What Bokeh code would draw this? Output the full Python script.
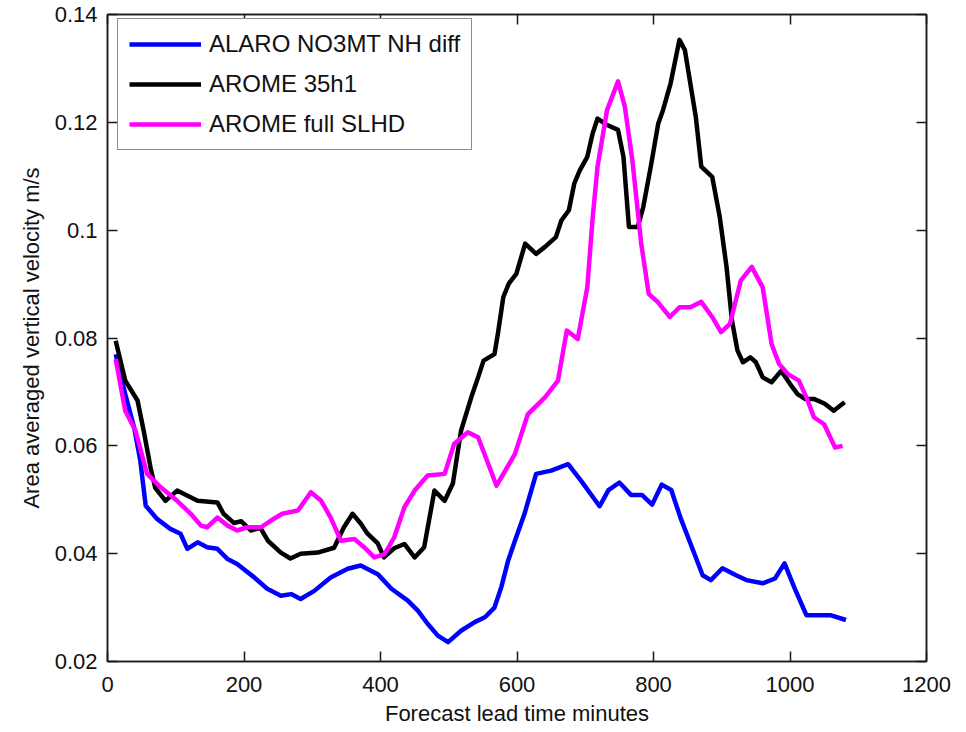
from bokeh.plotting import figure
from bokeh.models import LinearAxis, FixedTicker, CustomJSTickFormatter, Legend
from bokeh.embed import file_html
from bokeh.resources import INLINE

# ---- data ----
x_ticks = [0, 200, 400, 600, 800, 1000, 1200]
y_ticks = [0.02, 0.04, 0.06, 0.08, 0.10, 0.12, 0.14]

alaro_x = [12, 26, 39, 48, 56, 73, 92, 107, 117, 132, 146, 161, 176, 190, 215, 234, 254, 269, 283,
           303, 327, 352, 371, 396, 416, 440, 455, 469, 484, 499, 518, 538, 553, 567, 577, 587, 597,
           611, 628, 650, 675, 694, 721, 734, 750, 767, 783, 798, 812, 826, 840, 855, 872, 884, 901,
           921, 936, 960, 978, 992, 1007, 1024, 1059, 1082]
alaro_y = [0.0770, 0.0696, 0.0634, 0.0573, 0.0489, 0.0464, 0.0446, 0.0437, 0.0409, 0.0421, 0.0412,
           0.0409, 0.0390, 0.0381, 0.0356, 0.0335, 0.0322, 0.0325, 0.0316, 0.0331, 0.0356, 0.0372,
           0.0378, 0.0362, 0.0335, 0.0313, 0.0294, 0.0270, 0.0248, 0.0236, 0.0257, 0.0273, 0.0282,
           0.0300, 0.0338, 0.0387, 0.0424, 0.0474, 0.0548, 0.0554, 0.0566, 0.0535, 0.0488, 0.0518,
           0.0532, 0.0509, 0.0509, 0.0491, 0.0528, 0.0518, 0.0465, 0.0416, 0.0360, 0.0351, 0.0373,
           0.0360, 0.0351, 0.0345, 0.0354, 0.0382, 0.0335, 0.0286, 0.0286, 0.0277]

arome_x = [12, 26, 44, 53, 63, 70, 85, 102, 132, 161, 170, 185, 196, 210, 224, 235, 254, 268, 283,
           308, 332, 346, 359, 371, 381, 396, 405, 420, 435, 450, 464, 479, 494, 506, 518, 533, 543,
           551, 567, 572, 580, 588, 599, 612, 628, 641, 657, 665, 676, 684, 692, 703, 711, 718, 732,
           748, 756, 764, 777, 785, 796, 807, 814, 825, 838, 846, 854, 862, 870, 886, 897, 907, 915,
           923, 931, 942, 950, 960, 973, 987, 1000, 1011, 1022, 1035, 1051, 1064, 1080]
arome_y = [0.0795, 0.0721, 0.0684, 0.0628, 0.0560, 0.0522, 0.0498, 0.0517, 0.0498, 0.0495, 0.0474,
           0.0457, 0.0460, 0.0443, 0.0448, 0.0424, 0.0402, 0.0391, 0.0400, 0.0402, 0.0411, 0.0448,
           0.0474, 0.0456, 0.0437, 0.0419, 0.0393, 0.0410, 0.0418, 0.0393, 0.0412, 0.0517, 0.0498,
           0.0530, 0.0628, 0.0690, 0.0727, 0.0758, 0.0770, 0.0808, 0.0876, 0.0901, 0.0919, 0.0975,
           0.0956, 0.0969, 0.0987, 0.1018, 0.1037, 0.1087, 0.1111, 0.1136, 0.1180, 0.1207, 0.1195,
           0.1186, 0.1136, 0.1006, 0.1006, 0.1043, 0.1118, 0.1198, 0.1223, 0.1272, 0.1353, 0.1334,
           0.1272, 0.1210, 0.1118, 0.1099, 0.1025, 0.0932, 0.0832, 0.0777, 0.0755, 0.0764, 0.0755,
           0.0727, 0.0718, 0.0739, 0.0715, 0.0696, 0.0687, 0.0687, 0.0678, 0.0665, 0.0681]

slhd_x = [12, 26, 41, 58, 78, 102, 122, 137, 146, 161, 176, 190, 205, 225, 239, 256, 279, 298, 313,
          327, 342, 362, 376, 391, 406, 420, 435, 450, 469, 494, 508, 528, 543, 570, 597, 616, 641,
          660, 673, 689, 703, 711, 718, 732, 748, 758, 769, 782, 793, 806, 824, 838, 854, 870, 886,
          899, 912, 928, 944, 960, 973, 984, 997, 1013, 1024, 1035, 1050, 1066, 1077]
slhd_y = [0.0761, 0.0665, 0.0628, 0.0548, 0.0523, 0.0498, 0.0474, 0.0452, 0.0449, 0.0467, 0.0452,
          0.0443, 0.0449, 0.0449, 0.0461, 0.0474, 0.0480, 0.0514, 0.0498, 0.0467, 0.0424, 0.0427,
          0.0412, 0.0393, 0.0399, 0.0430, 0.0486, 0.0517, 0.0545, 0.0548, 0.0604, 0.0625, 0.0616,
          0.0526, 0.0585, 0.0659, 0.0690, 0.0721, 0.0814, 0.0798, 0.0894, 0.1025, 0.1118, 0.1223,
          0.1276, 0.1229, 0.1130, 0.0975, 0.0882, 0.0867, 0.0839, 0.0857, 0.0857, 0.0867, 0.0839,
          0.0811, 0.0826, 0.0907, 0.0932, 0.0894, 0.0789, 0.0752, 0.0733, 0.0721, 0.0690, 0.0653,
          0.0640, 0.0597, 0.0600]

series_names = ["ALARO NO3MT NH diff", "AROME 35h1", "AROME full SLHD"]
series_colors = ["#0000ff", "#000000", "#ff00ff"]

FONT = "Liberation Sans"

p = figure(output_backend="svg", toolbar_location=None,
           width=966, height=732,
           min_border_left=107, min_border_top=14, min_border_right=40, min_border_bottom=71,
           x_range=(0, 1200), y_range=(0.02, 0.14),
           background_fill_color="white", border_fill_color="white")

p.xgrid.visible = False
p.ygrid.visible = False
p.outline_line_color = "#1a1a1a"
p.outline_line_width = 1.5

fmt = CustomJSTickFormatter(code="return String(Math.round(tick*100)/100);")
blank = CustomJSTickFormatter(code="return '';")


def style_axis(ax):
    ax.axis_line_color = "#1a1a1a"
    ax.axis_line_width = 1.5
    ax.major_tick_line_color = "#1a1a1a"
    ax.major_tick_line_width = 1.5
    ax.major_tick_in = 10
    ax.major_tick_out = 0
    ax.minor_tick_in = 0
    ax.minor_tick_out = 0
    ax.major_label_text_font = FONT
    ax.major_label_text_color = "#111111"
    ax.major_label_text_font_size = "22px"
    ax.axis_label_text_font = FONT
    ax.axis_label_text_font_style = "normal"
    ax.axis_label_text_color = "#111111"
    ax.axis_label_text_font_size = "22px"


xax = p.xaxis[0]
xax.ticker = FixedTicker(ticks=x_ticks)
style_axis(xax)
xax.major_label_standoff = 15
xax.axis_label = "Forecast lead time minutes"
xax.axis_label_standoff = 6

yax = p.yaxis[0]
yax.ticker = FixedTicker(ticks=y_ticks)
yax.formatter = fmt
style_axis(yax)
yax.major_label_standoff = 10
yax.axis_label = "Area averaged vertical velocity m/s"
yax.axis_label_standoff = 8

top = LinearAxis(ticker=FixedTicker(ticks=x_ticks), formatter=blank)
style_axis(top)
top.major_label_standoff = 0
p.add_layout(top, "above")

right = LinearAxis(ticker=FixedTicker(ticks=y_ticks), formatter=blank)
style_axis(right)
right.major_label_standoff = 0
p.add_layout(right, "right")

items = []
for name, color, xs, ys in zip(series_names, series_colors,
                               [alaro_x, arome_x, slhd_x], [alaro_y, arome_y, slhd_y]):
    r = p.line(xs, ys, line_color=color, line_width=4.5, line_join="round")
    items.append((name, [r]))

legend = Legend(items=items, location=(10, 511))
legend.label_text_font = FONT
legend.label_text_font_size = "24px"
legend.label_text_color = "#111111"
legend.glyph_width = 72
legend.glyph_height = 28
legend.label_height = 28
legend.label_standoff = 8
legend.spacing = 12
legend.padding = 11
legend.margin = 0
legend.border_line_color = "#1a1a1a"
legend.border_line_width = 1.5
legend.background_fill_color = "white"
legend.background_fill_alpha = 1.0
p.add_layout(legend, "center")

open("out.html", "w").write(file_html(p, INLINE))
